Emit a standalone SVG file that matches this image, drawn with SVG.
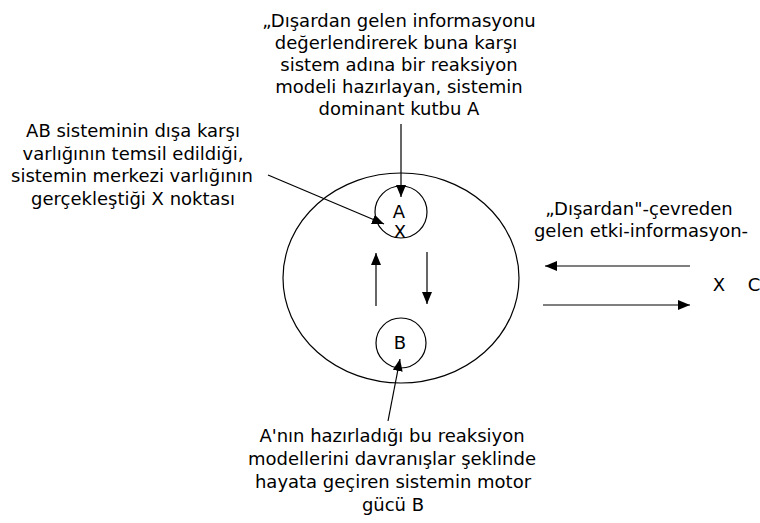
<svg xmlns="http://www.w3.org/2000/svg" width="760" height="523" viewBox="0 0 760 523">
<defs>
<marker id="ah" markerUnits="userSpaceOnUse" markerWidth="14" markerHeight="12" refX="12" refY="5" orient="auto">
<path d="M0,0 L12,5 L0,10 Z" fill="#000"/>
</marker>
</defs>
<style>
text{font-family:"DejaVu Sans","Liberation Sans",sans-serif;font-size:18px;fill:#000;text-anchor:middle}
.c{fill:none;stroke:#000;stroke-width:1.2}
.e{fill:none;stroke:#000;stroke-width:1.2;marker-end:url(#ah)}
</style>
<rect width="760" height="523" fill="#fff"/>
<g id="system">
<ellipse class="c" cx="401" cy="278" rx="118" ry="105"/>
</g>
<g id="nodeA">
<circle class="c" cx="401" cy="212" r="26"/>
<text x="399" y="218">A</text>
<text x="400" y="238">X</text>
</g>
<g id="nodeB">
<circle class="c" cx="401" cy="343" r="25"/>
<text x="400" y="349">B</text>
</g>
<g id="labelTop">
<text x="399" y="27">„Dışardan gelen informasyonu</text>
<text x="396" y="49">değerlendirerek buna karşı</text>
<text x="399" y="71">sistem adına bir reaksiyon</text>
<text x="399" y="93">modeli hazırlayan, sistemin</text>
<text x="399" y="115">dominant kutbu A</text>
</g>
<g id="labelLeft">
<text x="133" y="137">AB sisteminin dışa karşı</text>
<text x="133" y="160">varlığının temsil edildiği,</text>
<text x="132" y="182">sistemin merkezi varlığının</text>
<text x="133" y="205">gerçekleştiği X noktası</text>
</g>
<g id="labelRight">
<text x="639" y="215">„Dışardan"-çevreden</text>
<text x="641" y="237">gelen etki-informasyon-</text>
</g>
<g id="labelXC">
<text x="719" y="291">X</text>
<text x="754" y="291">C</text>
</g>
<g id="labelBottom">
<text x="392" y="442">A'nın hazırladığı bu reaksiyon</text>
<text x="392" y="465">modellerini davranışlar şeklinde</text>
<text x="393" y="488">hayata geçiren sistemin motor</text>
<text x="393" y="511">gücü B</text>
</g>
<g id="connectors">
<line class="e" x1="401" y1="124" x2="401" y2="197"/>
<line class="e" x1="268" y1="175" x2="384" y2="224"/>
<line class="e" x1="376" y1="306" x2="376" y2="253"/>
<line class="e" x1="427" y1="252" x2="427" y2="304"/>
<line class="e" x1="388" y1="421" x2="400" y2="359"/>
<line class="e" x1="690" y1="266" x2="545" y2="266"/>
<line class="e" x1="543" y1="305" x2="690" y2="305"/>
</g>
</svg>
